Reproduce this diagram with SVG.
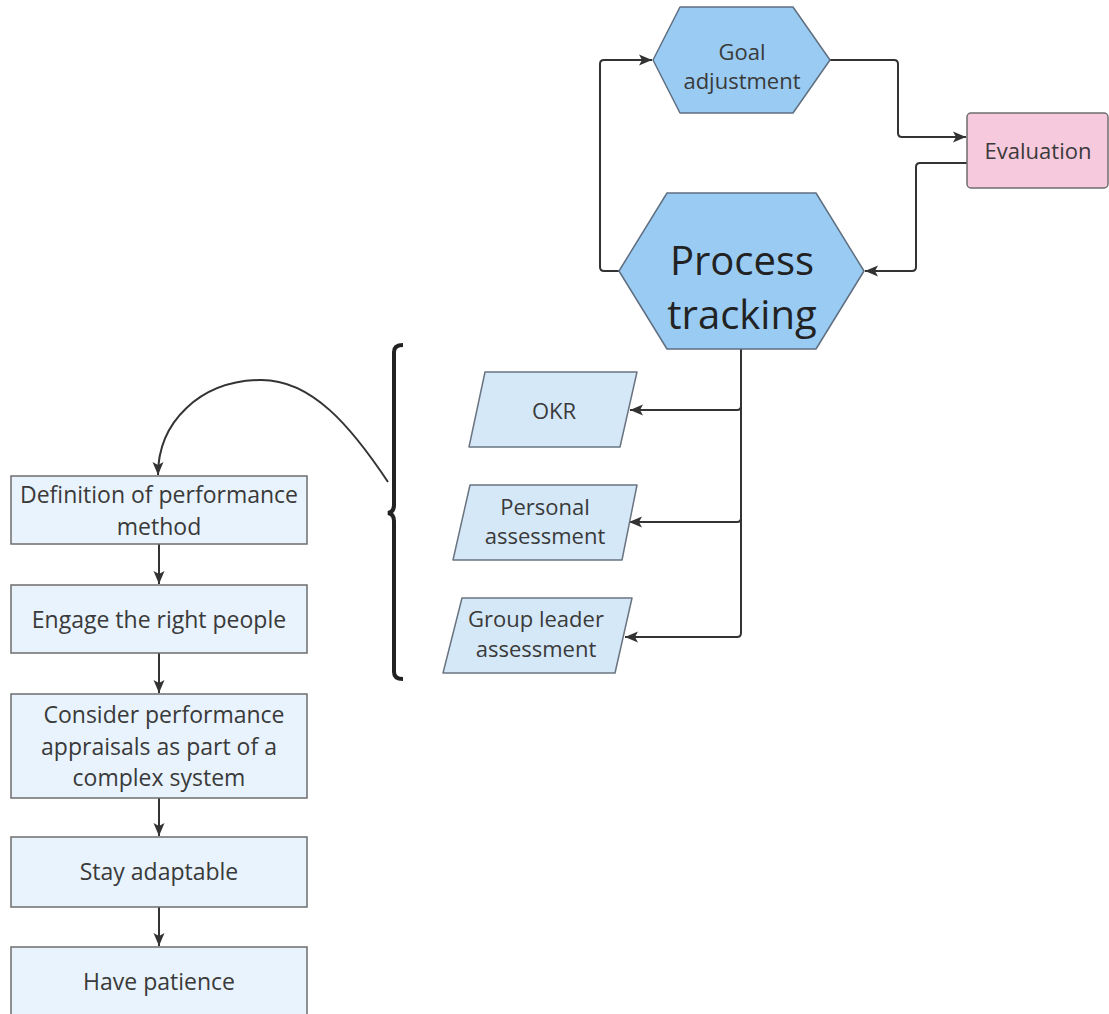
<svg xmlns="http://www.w3.org/2000/svg" width="1109" height="1014" viewBox="0 0 1109 1014">
  <style>
    text { font-family: "Open Sans", "Noto Sans", "Liberation Sans", sans-serif; fill: #3a3a3a; text-anchor: middle; }
    .t22 { font-size: 22px; }
    .t23 { font-size: 23px; }
    .t40 { font-size: 40px; fill: #222; }
    .hex { fill: #99cbf3; stroke: #5f6f80; stroke-width: 1.5; stroke-linejoin: round; }
    .para { fill: #d5e8f8; stroke: #6a7480; stroke-width: 1.5; stroke-linejoin: round; }
    .step { fill: #e8f3fd; stroke: #6e6e6e; stroke-width: 1.5; }
    .eval { fill: #f6c9dd; stroke: #6e6e6e; stroke-width: 1.5; }
    .conn { fill: none; stroke: #333; stroke-width: 2; stroke-linejoin: round; }
  </style>
  <defs>
    <marker id="arrow" markerUnits="userSpaceOnUse" markerWidth="14" markerHeight="14" viewBox="0 0 14 14" refX="13" refY="7" orient="auto">
      <path d="M0,1.5 L13,7 L0,12.5 L3,7 Z" fill="#333"/>
    </marker>
  </defs>

  <!-- connectors -->
  <g id="connectors">
    <path class="conn" d="M830,60 H894 Q898,60 898,64 V133 Q898,137 902,137 H966" marker-end="url(#arrow)"/>
    <path class="conn" d="M967,163 H920 Q916,163 916,167 V267 Q916,271 912,271 H865" marker-end="url(#arrow)"/>
    <path class="conn" d="M619,271 H604 Q600,271 600,267 V64 Q600,60 604,60 H652" marker-end="url(#arrow)"/>
    <path class="conn" d="M741,349 V406 Q741,410 737,410 H630" marker-end="url(#arrow)"/>
    <path class="conn" d="M741,349 V518 Q741,522 737,522 H629" marker-end="url(#arrow)"/>
    <path class="conn" d="M741,349 V633 Q741,637 737,637 H625" marker-end="url(#arrow)"/>
    <path class="conn" d="M388,482 C352,428 312,379 260,380 C200,381 158,422 158,475" marker-end="url(#arrow)"/>
    <path class="conn" d="M159,544 V584" marker-end="url(#arrow)"/>
    <path class="conn" d="M159,653 V693" marker-end="url(#arrow)"/>
    <path class="conn" d="M159,798 V836" marker-end="url(#arrow)"/>
    <path class="conn" d="M159,907 V946" marker-end="url(#arrow)"/>
  </g>

  <!-- curly brace -->
  <g id="brace">
    <path d="M403,345 Q394,345 394,352 V505 Q394,512 388,513 Q394,514 394,521 V672 Q394,679 403,679" fill="none" stroke="#222" stroke-width="4"/>
  </g>

  <g id="goal-adjustment">
    <polygon class="hex" points="653,60 680,7 793,7 830,60 793,113 680,113"/>
    <text class="t22" x="742" y="60">Goal</text>
    <text class="t22" x="742" y="89">adjustment</text>
  </g>

  <g id="evaluation">
    <rect class="eval" x="967" y="113" width="141" height="75" rx="4"/>
    <text class="t22" x="1038" y="159">Evaluation</text>
  </g>

  <g id="process-tracking">
    <polygon class="hex" points="619,271 667,193 816,193 864,271 816,349 667,349"/>
    <text class="t40" x="742" y="275">Process</text>
    <text class="t40" x="742" y="329">tracking</text>
  </g>

  <g id="okr">
    <polygon class="para" points="485,372 637,372 620,447 469,447"/>
    <text class="t22" x="554" y="419">OKR</text>
  </g>

  <g id="personal-assessment">
    <polygon class="para" points="470,485 637,485 622,560 453,560"/>
    <text class="t22" x="545" y="515">Personal</text>
    <text class="t22" x="545" y="544">assessment</text>
  </g>

  <g id="group-leader-assessment">
    <polygon class="para" points="462,598 632,598 615,673 443,673"/>
    <text class="t22" x="536" y="627">Group leader</text>
    <text class="t22" x="536" y="657">assessment</text>
  </g>

  <g id="definition">
    <rect class="step" x="11" y="476" width="296" height="68"/>
    <text class="t23" x="159" y="503">Definition of performance</text>
    <text class="t23" x="159" y="535">method</text>
  </g>

  <g id="engage">
    <rect class="step" x="11" y="585" width="296" height="68"/>
    <text class="t23" x="159" y="628">Engage the right people</text>
  </g>

  <g id="consider">
    <rect class="step" x="11" y="694" width="296" height="104"/>
    <text class="t23" x="164" y="723">Consider performance</text>
    <text class="t23" x="159" y="755">appraisals as part of a</text>
    <text class="t23" x="159" y="786">complex system</text>
  </g>

  <g id="stay-adaptable">
    <rect class="step" x="11" y="837" width="296" height="70"/>
    <text class="t23" x="159" y="880">Stay adaptable</text>
  </g>

  <g id="have-patience">
    <rect class="step" x="11" y="947" width="296" height="80"/>
    <text class="t23" x="159" y="990">Have patience</text>
  </g>
</svg>
